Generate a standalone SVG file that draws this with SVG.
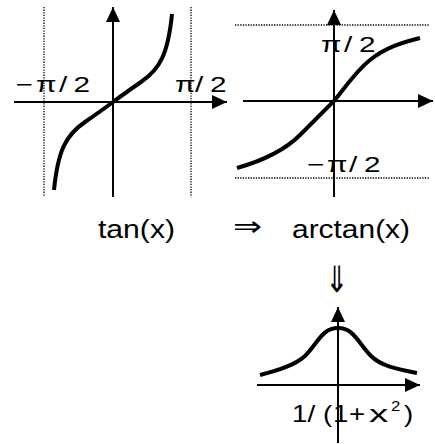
<svg xmlns="http://www.w3.org/2000/svg" width="435" height="444" viewBox="0 0 435 444">
<style>
.ar{stroke:#000;stroke-width:2;fill:none;marker-end:url(#ah)}
.dot{stroke:#000;stroke-width:1.3;stroke-dasharray:1.3 1.3;fill:none}
.cv{stroke:#000;stroke-width:4;fill:none;stroke-linecap:butt}
.lb{font-family:"Liberation Sans",Arial,sans-serif;fill:#000}
.pl{font-family:"Liberation Sans",Arial,sans-serif;fill:#000;font-size:22px}
.sym{font-family:"DejaVu Sans",sans-serif;fill:#000}
</style>
<defs>
<marker id="ah" viewBox="0 0 16 16" refX="15" refY="8" markerWidth="16" markerHeight="16" markerUnits="userSpaceOnUse" orient="auto">
<path d="M0,1 L15,8 L0,15 z" fill="#000"/>
</marker>
</defs>
<rect width="435" height="444" fill="#fff"/>
<g id="tan-plot">
<line class="dot" x1="44" y1="7" x2="44" y2="197"/>
<line class="dot" x1="191" y1="7" x2="191" y2="197"/>
<text class="pl" transform="translate(15.5,92) scale(1.35,1)"><tspan x="0">−</tspan><tspan x="15.2">π</tspan><tspan x="32.2">/</tspan><tspan x="43">2</tspan></text>
<text class="pl" transform="translate(175,92) scale(1.35,1)"><tspan x="0">π</tspan><tspan x="14.8">/</tspan><tspan x="25.9">2</tspan></text>
<line class="ar" x1="113" y1="197" x2="113" y2="7"/>
<line class="ar" x1="14" y1="102" x2="227" y2="102"/>
<path class="cv" d="M54,190 C58,150 66,135 85,122 C98,113 105,108 113,102 C121,96 128,91 141,82 C160,69 168,54 172,14"/>
<text class="lb" x="98" y="238" font-size="26" textLength="77" lengthAdjust="spacingAndGlyphs">tan(x)</text>
</g>
<g id="arctan-plot">
<line class="dot" x1="235" y1="25" x2="430" y2="25"/>
<line class="dot" x1="235" y1="178" x2="430" y2="178"/>
<text class="pl" transform="translate(321,52) scale(1.35,1)"><tspan x="0">π</tspan><tspan x="17">/</tspan><tspan x="28.1">2</tspan></text>
<text class="pl" transform="translate(307,172) scale(1.35,1)"><tspan x="0">−</tspan><tspan x="14.8">π</tspan><tspan x="31.1">/</tspan><tspan x="42.2">2</tspan></text>
<line class="ar" x1="334" y1="197" x2="334" y2="10"/>
<line class="ar" x1="243" y1="101" x2="433" y2="101"/>
<path class="cv" d="M237,168 C265,160 285,150 300,135 C315,120 325,110 334,101 C345,88 355,72 370,60 C385,48 400,43 420,38"/>
<text class="lb" x="292" y="238" font-size="26" textLength="118" lengthAdjust="spacingAndGlyphs">arctan(x)</text>
</g>
<g id="derivative-plot">
<text class="lb" font-size="23" transform="translate(292,422) scale(1.2,1)"><tspan x="0">1</tspan><tspan x="12.9">/</tspan><tspan x="25.8">(</tspan><tspan x="34.2">1</tspan><tspan x="47.5">+</tspan><tspan x="64.2" textLength="16" lengthAdjust="spacingAndGlyphs">x</tspan><tspan x="82.5" y="-11" font-size="14">2</tspan><tspan x="93.3" y="0">)</tspan></text>
<line class="ar" x1="338" y1="443" x2="338" y2="307"/>
<line class="ar" x1="257" y1="385" x2="420" y2="385"/>
<path class="cv" d="M260,375 C280,370 295,365 305,356 C318,343 322,328 338,328 C354,328 358,343 371,356 C381,366 397,369 417,373"/>
</g>
<g id="connectors">
<text class="sym" x="233" y="236" font-size="28" textLength="29" lengthAdjust="spacingAndGlyphs">⇒</text>
<text class="sym" transform="translate(337,292) scale(1,1.3)" text-anchor="middle" font-size="28">⇓</text>
</g>
</svg>
